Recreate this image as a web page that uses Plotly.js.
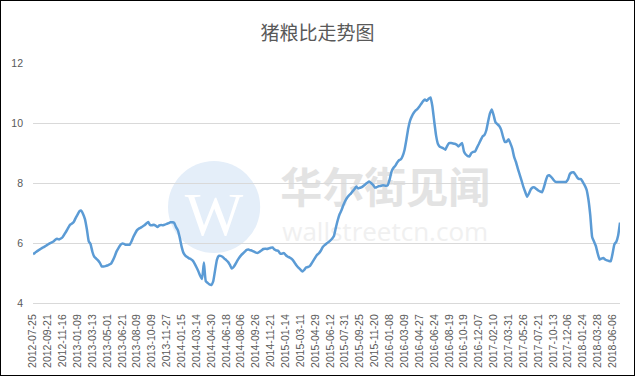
<!DOCTYPE html>
<html>
<head>
<meta charset="utf-8">
<script src="https://cdn.plot.ly/plotly-3.0.1.min.js"></script>
<style>
  html, body { margin: 0; padding: 0; background: #fff; }
  #wrap { position: relative; width: 635px; height: 376px; }
  #chart { width: 635px; height: 376px; }
  #frame { position: absolute; left: 0; top: 0; width: 635px; height: 376px; box-sizing: border-box; border: 1.5px solid #000; pointer-events: none; }
</style>
</head>
<body>
<div id="wrap"><div id="chart"></div><div id="frame"></div></div>
<script>
const chartTitle = "猪粮比走势图";

const tickLabels = [
  "2012-07-25","2012-09-21","2012-11-16","2013-01-09","2013-03-13","2013-05-01","2013-06-21","2013-08-09",
  "2013-10-09","2013-11-27","2014-01-15","2014-03-14","2014-04-30","2014-06-18","2014-08-06","2014-09-26",
  "2014-11-21","2015-01-14","2015-03-11","2015-04-29","2015-06-12","2015-07-31","2015-09-25","2015-11-20",
  "2016-01-08","2016-03-09","2016-04-27","2016-06-24","2016-08-19","2016-10-19","2016-12-07","2017-02-10",
  "2017-03-31","2017-05-26","2017-07-21","2017-10-13","2017-12-06","2018-01-24","2018-03-28","2018-06-06"
];

// pig-grain price ratio, one value per weekly observation (8 observations per labelled tick)
const ratio = [
  5.63,5.67,5.72,5.76,5.80,5.84,5.87,5.91,
  5.95,5.99,6.02,6.05,6.11,6.14,6.12,6.15,
  6.20,6.30,6.40,6.51,6.61,6.65,6.71,6.84,
  6.95,7.06,7.08,6.96,6.79,6.46,6.06,5.96,
  5.70,5.54,5.48,5.42,5.34,5.22,5.22,5.23,
  5.25,5.28,5.31,5.42,5.56,5.72,5.83,5.93,
  5.98,5.97,5.94,5.94,5.94,6.05,6.20,6.32,
  6.43,6.48,6.51,6.55,6.59,6.65,6.70,6.60,
  6.59,6.61,6.58,6.53,6.59,6.60,6.59,6.61,
  6.64,6.66,6.69,6.69,6.67,6.53,6.42,6.18,
  5.88,5.67,5.58,5.53,5.49,5.46,5.41,5.31,
  5.19,5.06,4.91,4.80,5.35,4.73,4.67,4.62,
  4.60,4.72,5.08,5.44,5.57,5.57,5.54,5.48,
  5.43,5.37,5.27,5.15,5.20,5.30,5.41,5.51,
  5.59,5.65,5.71,5.77,5.78,5.76,5.74,5.71,
  5.68,5.67,5.71,5.75,5.80,5.81,5.80,5.82,
  5.84,5.85,5.78,5.75,5.74,5.65,5.64,5.67,
  5.60,5.55,5.52,5.48,5.42,5.33,5.24,5.17,
  5.11,5.05,5.10,5.18,5.20,5.23,5.32,5.42,
  5.52,5.61,5.66,5.75,5.87,5.93,5.98,6.03,
  6.08,6.14,6.23,6.50,6.75,6.95,7.08,7.25,
  7.39,7.50,7.58,7.64,7.72,7.79,7.88,7.82,
  7.84,7.86,7.91,7.96,8.01,8.05,8.00,7.94,
  7.85,7.86,7.89,7.90,7.92,7.92,7.91,7.93,
  8.12,8.38,8.50,8.57,8.68,8.76,8.79,8.90,
  9.10,9.44,9.82,10.08,10.23,10.34,10.42,10.47,
  10.55,10.64,10.73,10.78,10.74,10.81,10.85,10.56,
  10.05,9.58,9.30,9.21,9.18,9.15,9.11,9.24,
  9.33,9.33,9.32,9.31,9.28,9.22,9.28,9.33,
  9.05,8.95,8.90,8.89,9.00,9.04,9.05,9.18,
  9.30,9.43,9.55,9.60,9.75,10.05,10.32,10.45,
  10.25,10.02,9.96,9.90,9.78,9.55,9.37,9.38,
  9.46,9.32,9.15,8.87,8.70,8.48,8.28,8.08,
  7.87,7.70,7.54,7.65,7.79,7.85,7.85,7.80,
  7.75,7.72,7.69,7.85,8.07,8.24,8.26,8.20,
  8.12,8.05,8.03,8.03,8.03,8.03,8.03,8.04,
  8.12,8.30,8.35,8.36,8.28,8.18,8.13,8.13,
  8.03,7.92,7.78,7.45,6.92,6.20,6.05,5.90,
  5.65,5.45,5.48,5.50,5.45,5.42,5.40,5.39,
  5.65,5.96,6.04,6.25,6.68
];

const obsIndex = ratio.map((_, i) => i);
const tickIndex = tickLabels.map((_, k) => k * 8);

const trace = {
  x: obsIndex,
  y: ratio,
  type: "scatter",
  mode: "lines",
  line: { color: "#5b9bd5", width: 2.5, shape: "spline", smoothing: 0.4 },
  hoverinfo: "skip"
};

const layout = {
  width: 635,
  height: 376,
  margin: { l: 33, r: 15, t: 63, b: 73, pad: 0 },
  paper_bgcolor: "#ffffff",
  plot_bgcolor: "#ffffff",
  showlegend: false,
  title: {
    text: chartTitle,
    font: { family: "Noto Sans CJK SC, sans-serif", size: 19, color: "#595959" },
    x: 0.5, xanchor: "center",
    y: 1 - 33 / 376, yref: "container", yanchor: "middle"
  },
  xaxis: {
    type: "linear",
    range: [0, ratio.length - 1],
    tickmode: "array",
    tickvals: tickIndex,
    ticktext: tickLabels,
    tickangle: -90,
    tickfont: { family: "Liberation Sans, Arial, sans-serif", size: 10.5, color: "#595959" },
    ticks: "",
    ticklabelstandoff: 6,
    showgrid: false,
    zeroline: false,
    showline: true,
    linecolor: "#d9d9d9",
    linewidth: 1,
    fixedrange: true
  },
  yaxis: {
    range: [4, 12],
    tickmode: "array",
    tickvals: [4, 6, 8, 10, 12],
    tickfont: { family: "Liberation Sans, Arial, sans-serif", size: 10.5, color: "#595959" },
    ticks: "",
    ticklabelstandoff: 9,
    showgrid: true,
    gridcolor: "#d9d9d9",
    gridwidth: 1,
    zeroline: false,
    showline: false,
    fixedrange: true
  },
  shapes: [
    {
      type: "circle", xref: "paper", yref: "paper", layer: "below",
      x0: 0.230, x1: 0.387, y0: 0.208, y1: 0.592,
      fillcolor: "#e4eef9", line: { width: 0 },
      label: { text: "W", font: { family: "Liberation Serif, serif", size: 62, color: "#ffffff" }, textposition: "middle center" }
    },
    {
      type: "rect", xref: "paper", yref: "paper", layer: "below",
      x0: 0.42, x1: 0.78, y0: 0.38, y1: 0.55,
      fillcolor: "rgba(0,0,0,0)", line: { width: 0 },
      label: { text: "华尔街见闻", font: { family: "Noto Sans CJK SC, sans-serif", size: 42, color: "#e3e3e3", weight: "bold" }, textposition: "middle center" }
    },
    {
      type: "rect", xref: "paper", yref: "paper", layer: "below",
      x0: 0.42, x1: 0.78, y0: 0.23, y1: 0.35,
      fillcolor: "rgba(0,0,0,0)", line: { width: 0 },
      label: { text: "wallstreetcn.com", font: { family: "Open Sans, sans-serif", size: 26, color: "#f0f0f0" }, textposition: "middle center" }
    }
  ]
};

Plotly.newPlot("chart", [trace], layout, { staticPlot: true, displayModeBar: false });
</script>
</body>
</html>
